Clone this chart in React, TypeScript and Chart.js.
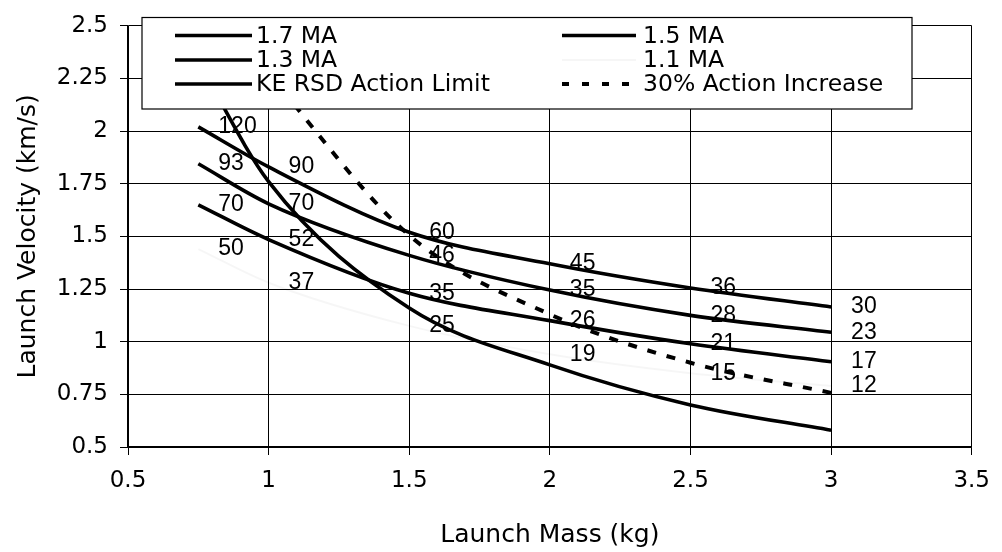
import React, { useEffect, useRef } from "react";
import { Chart, registerables } from "chart.js";

Chart.register(...registerables);

// ---- data ----
const massKg = [0.75, 1, 1.5, 2, 2.5, 3];
const ma17 = [2.02, 1.83, 1.52, 1.37, 1.255, 1.165];
const ma15 = [1.845, 1.655, 1.41, 1.245, 1.125, 1.045];
const ma13 = [1.65, 1.485, 1.23, 1.1, 0.99, 0.905];
const ma11 = [1.44, 1.28, 1.075, 0.94, 0.85, 0.79];
const keLimit = [2.33, 1.76, 1.16, 0.89, 0.7, 0.58];
const increaseMass = [1, 1.5, 2, 2.5, 3];
const increase30 = [2.27, 1.505, 1.13, 0.9, 0.757];

const lab17 = [120, 90, 60, 45, 36, 30];
const lab15 = [93, 70, 46, 35, 28, 23];
const lab13 = [70, 52, 35, 26, 21, 17];
const lab11 = [50, 37, 25, 19, 15, 12];

const xTicks = [0.5, 1, 1.5, 2, 2.5, 3, 3.5];
const yTicks = [0.5, 0.75, 1, 1.25, 1.5, 1.75, 2, 2.25, 2.5];
const seriesNames = [
  "1.7 MA",
  "1.5 MA",
  "1.3 MA",
  "1.1 MA",
  "KE RSD Action Limit",
  "30% Action Increase",
];
const xTitle = "Launch Mass (kg)";
const yTitle = "Launch Velocity (km/s)";

const pts = (xs: number[], ys: number[]) => xs.map((x, i) => ({ x, y: ys[i] }));

const pointLabels: (number[] | null)[] = [lab17, lab15, lab13, lab11, null, null];

const AXIS_FONT = "'DejaVu Sans'";

const dataLabelPlugin = {
  id: "dataLabels",
  afterDatasetsDraw(chart: any) {
    const ctx = chart.ctx;
    ctx.save();
    ctx.fillStyle = "#000";
    ctx.font = "23px 'Liberation Sans'";
    ctx.textAlign = "left";
    ctx.textBaseline = "middle";
    pointLabels.forEach((labels, di) => {
      if (!labels) return;
      const meta = chart.getDatasetMeta(di);
      meta.data.forEach((el: any, i: number) => {
        ctx.fillText(String(labels[i]), el.x + 20, el.y);
      });
    });
    ctx.restore();
  },
};

const boxLegendPlugin = {
  id: "boxLegend",
  afterDraw(chart: any) {
    const ctx = chart.ctx;
    const box = { l: 142, t: 17.5, r: 912, b: 109 };
    ctx.save();
    ctx.fillStyle = "#fff";
    ctx.fillRect(box.l, box.t, box.r - box.l, box.b - box.t);
    ctx.strokeStyle = "#000";
    ctx.lineWidth = 1.2;
    ctx.strokeRect(box.l, box.t, box.r - box.l, box.b - box.t);
    const cols = [
      { x0: 175, x1: 252, tx: 256 },
      { x0: 562, x1: 636, tx: 643 },
    ];
    const rows = [35.5, 60, 84];
    ctx.font = "23.5px " + AXIS_FONT;
    ctx.textBaseline = "middle";
    ctx.textAlign = "left";
    chart.data.datasets.forEach((ds: any, i: number) => {
      const c = cols[i % 2];
      const y = rows[Math.floor(i / 2)];
      ctx.save();
      ctx.strokeStyle = ds.borderColor;
      ctx.lineWidth = ds.borderWidth;
      ctx.setLineDash(ds.legendDash || []);
      ctx.beginPath();
      ctx.moveTo(c.x0, y);
      ctx.lineTo(c.x1, y);
      ctx.stroke();
      ctx.restore();
      ctx.fillStyle = "#000";
      ctx.fillText(ds.label, c.tx, y + 1);
    });
    ctx.restore();
  },
};

export default function App() {
  const ref = useRef<HTMLCanvasElement | null>(null);

  useEffect(() => {
    if (!ref.current) return;
    const solid = (label: string, ys: number[], color = "#000", width = 3.6) => ({
      label,
      data: pts(massKg, ys),
      borderColor: color,
      backgroundColor: color,
      borderWidth: width,
      pointRadius: 0,
      cubicInterpolationMode: "monotone",
      fill: false,
    });
    const chart = new Chart(ref.current, {
      type: "line",
      data: {
        datasets: [
          solid(seriesNames[0], ma17),
          solid(seriesNames[1], ma15),
          solid(seriesNames[2], ma13),
          solid(seriesNames[3], ma11, "rgba(0,0,0,0.035)", 2),
          solid(seriesNames[4], keLimit),
          {
            label: seriesNames[5],
            data: pts(increaseMass, increase30),
            borderColor: "#000",
            backgroundColor: "#000",
            borderWidth: 4,
            borderDash: [9, 11],
            legendDash: [7, 13],
            pointRadius: 0,
            cubicInterpolationMode: "monotone",
            fill: false,
          } as any,
        ],
      },
      options: {
        animation: false,
        responsive: false,
        devicePixelRatio: 1,
        layout: { padding: { top: 20, right: 22, left: 0, bottom: 0 } },
        plugins: {
          legend: { display: false },
          tooltip: { enabled: false },
          title: { display: false },
        },
        scales: {
          x: {
            type: "linear",
            min: 0.5,
            max: 3.5,
            afterBuildTicks: (s: any) => {
              s.ticks = xTicks.map((v) => ({ value: v }));
            },
            afterFit: (s: any) => {
              s.height = 105;
            },
            ticks: {
              color: "#000",
              font: { family: AXIS_FONT, size: 23 },
              padding: 12,
              maxRotation: 0,
              autoSkip: false,
              callback: (v: any) => String(v),
            },
            grid: {
              color: "#000",
              lineWidth: 1,
              tickLength: 8,
              tickColor: "#000",
              drawTicks: true,
            },
            border: { display: true, color: "#000", width: 1.5 },
            title: {
              display: true,
              text: xTitle,
              color: "#000",
              font: { family: AXIS_FONT, size: 25 },
              padding: { top: 0, bottom: 2 },
            },
          },
          y: {
            type: "linear",
            min: 0.5,
            max: 2.5,
            afterBuildTicks: (s: any) => {
              s.ticks = yTicks.map((v) => ({ value: v }));
            },
            afterFit: (s: any) => {
              s.width = 128;
            },
            ticks: {
              color: "#000",
              font: { family: AXIS_FONT, size: 23 },
              padding: 12,
              autoSkip: false,
              callback: (v: any) => String(v),
            },
            grid: {
              color: "#000",
              lineWidth: 1,
              tickLength: 8,
              tickColor: "#000",
              drawTicks: true,
            },
            border: { display: true, color: "#000", width: 1.5 },
            title: {
              display: true,
              text: yTitle,
              color: "#000",
              font: { family: AXIS_FONT, size: 25 },
              padding: { top: 13, bottom: 0 },
            },
          },
        },
      } as any,
      plugins: [dataLabelPlugin, boxLegendPlugin],
    });
    return () => chart.destroy();
  }, []);

  return (
    <div
      style={{
        position: "fixed",
        left: 0,
        top: 0,
        width: 1002,
        height: 552,
        background: "#fff",
      }}
    >
      <canvas ref={ref} width={1002} height={552} style={{ display: "block" }} />
    </div>
  );
}
